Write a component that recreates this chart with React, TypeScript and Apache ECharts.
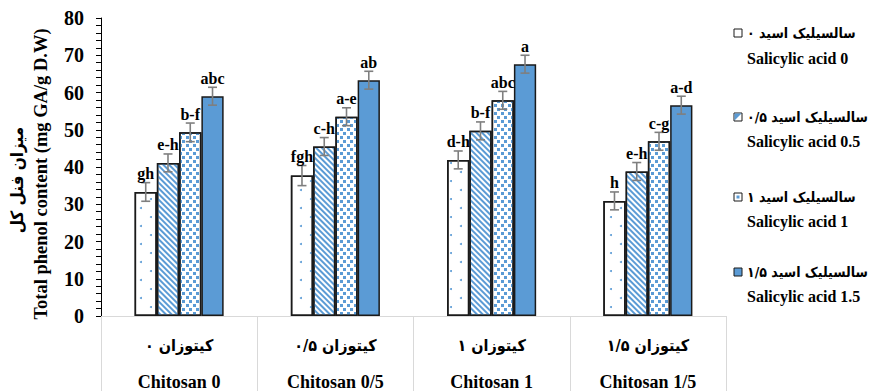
import React, { useEffect, useRef } from "react";
import * as echarts from "echarts";

const categoriesEn = ["Chitosan 0", "Chitosan 0/5", "Chitosan 1", "Chitosan 1/5"];
const categoriesFa = ["کیتوزان ۰", "کیتوزان ۰/۵", "کیتوزان ۱", "کیتوزان ۱/۵"];

const seriesNamesEn = ["Salicylic acid 0", "Salicylic acid 0.5", "Salicylic acid 1", "Salicylic acid 1.5"];
const seriesNamesFa = ["سالسیلیک اسید ۰", "سالسیلیک اسید ۰/۵", "سالسیلیک اسید ۱", "سالسیلیک اسید ۱/۵"];

const sa0 = [33.3, 37.7, 41.9, 30.9];
const sa05 = [41.1, 45.5, 49.7, 38.8];
const sa1 = [49.3, 53.5, 57.9, 46.9];
const sa15 = [59.0, 63.3, 67.6, 56.6];

const err0 = [2.5, 2.7, 2.4, 2.4];
const err05 = [2.4, 2.4, 2.4, 2.4];
const err1 = [2.5, 2.4, 2.4, 2.4];
const err15 = [2.4, 2.4, 2.4, 2.4];

const let0 = ["gh", "fgh", "d-h", "h"];
const let05 = ["e-h", "c-h", "b-f", "e-h"];
const let1 = ["b-f", "a-e", "abc", "c-g"];
const let15 = ["abc", "ab", "a", "a-d"];

const yTicks = [0, 10, 20, 30, 40, 50, 60, 70, 80];

const yTitleFa = "میزان فنل کل";
const yTitleEn = "Total phenol content (mg GA/g D.W)";

const allValues = [sa0, sa05, sa1, sa15];
const allErrors = [err0, err05, err1, err15];
const allLetters = [let0, let05, let1, let15];

const BLUE = "#5b9bd5";
const SERIF = "'Liberation Serif', 'Times New Roman', 'DejaVu Serif', serif";
const FA = "'DejaVu Sans Condensed', 'DejaVu Sans', sans-serif";

const decals: any[] = [
  {
    symbol: "circle",
    symbolSize: 1,
    color: BLUE,
    dashArrayX: [[2, 18], [0, 10, 2, 8]],
    dashArrayY: [2, 7],
    rotation: 0,
  },
  {
    symbol: "rect",
    symbolSize: 1,
    color: BLUE,
    dashArrayX: [1, 0],
    dashArrayY: [2, 2],
    rotation: Math.PI / 4,
  },
  {
    symbol: "rect",
    symbolSize: 1,
    color: BLUE,
    dashArrayX: [[3, 4], [0, 4, 3, 0]],
    dashArrayY: [3, 1],
    rotation: 0,
  },
  null,
];

function measure(text: string, font: string): number {
  const cv = document.createElement("canvas");
  const ctx = cv.getContext("2d");
  if (!ctx) return text.length * 7;
  ctx.font = font;
  return ctx.measureText(text).width;
}

export default function App() {
  const ref = useRef<HTMLDivElement>(null);

  useEffect(() => {
    if (!ref.current) return;
    const chart = echarts.init(ref.current, undefined, { renderer: "svg" });

    const barSeries = allValues.map((vals, s) => ({
      type: "bar",
      name: seriesNamesEn[s],
      data: vals,
      barGap: "0%",
      barCategoryGap: "43%",
      itemStyle: {
        color: s === 3 ? BLUE : "#ffffff",
        borderColor: "#1a1a1a",
        borderWidth: 1.5,
        decal: decals[s] || undefined,
      },
      z: 2,
    }));

    const errData: number[][] = [];
    const errLabels: string[] = [];
    allValues.forEach((vals, s) => {
      vals.forEach((v, c) => {
        errData.push([c, v, allErrors[s][c], s]);
        errLabels.push(allLetters[s][c]);
      });
    });

    const errorSeries = {
      type: "custom",
      data: errData,
      z: 5,
      encode: { x: 0, y: 1 },
      renderItem: (params: any, api: any) => {
        const c = api.value(0);
        const v = api.value(1);
        const e = api.value(2);
        const s = api.value(3);
        const catW = api.size([1, 0])[0];
        const barW = (catW * 0.57) / 4;
        const cx = api.coord([c, v])[0] + (s - 1.5) * barW;
        const yTop = api.coord([c, v + e])[1];
        const yBot = api.coord([c, v - e])[1];
        const hw = 4.5;
        const st = { stroke: "#7f7f7f", lineWidth: 1.6 };
        return {
          type: "group",
          children: [
            { type: "line", shape: { x1: cx, y1: yTop, x2: cx, y2: yBot }, style: st },
            { type: "line", shape: { x1: cx - hw, y1: yTop, x2: cx + hw, y2: yTop }, style: st },
            { type: "line", shape: { x1: cx - hw, y1: yBot, x2: cx + hw, y2: yBot }, style: st },
            {
              type: "text",
              x: cx,
              y: yTop - 1,
              style: {
                text: errLabels[params.dataIndex],
                align: "center",
                verticalAlign: "bottom",
                textAlign: "center",
                textVerticalAlign: "bottom",
                font: `bold 16px ${SERIF}`,
                fill: "#000",
              },
            },
          ],
        };
      },
    };

    // legend graphics
    const faY = [33, 117, 197, 272];
    const enY = [58, 141, 221, 296];
    const faFont = `bold 14px ${FA}`;
    const legendGraphics: any[] = [];
    seriesNamesFa.forEach((nm, i) => {
      const w = measure(nm, faFont);
      const iy = faY[i] - 4;
      const ix = 734;
      legendGraphics.push({
        type: "rect",
        shape: { x: ix, y: iy, width: 8, height: 8 },
        style: { fill: i === 3 ? BLUE : "#fff", stroke: "#1a1a1a", lineWidth: 1 },
      });
      if (i === 1) {
        legendGraphics.push({
          type: "polygon",
          shape: { points: [[ix + 0.5, iy + 0.5], [ix + 7.5, iy + 0.5], [ix + 0.5, iy + 7.5]] },
          style: { fill: BLUE },
        });
      }
      if (i === 2) {
        legendGraphics.push({
          type: "rect",
          shape: { x: ix + 2.5, y: iy + 2.5, width: 3, height: 3 },
          style: { fill: BLUE },
        });
      }
      legendGraphics.push({
        type: "text",
        x: Math.min(868, 747 + w),
        y: faY[i],
        style: {
          text: nm,
          align: "right",
          verticalAlign: "middle",
          font: faFont,
          fill: "#000",
        },
      });
      legendGraphics.push({
        type: "text",
        x: 747,
        y: enY[i],
        style: {
          text: seriesNamesEn[i],
          align: "left",
          verticalAlign: "middle",
          font: `bold 16px ${SERIF}`,
          fill: "#000",
        },
      });
    });

    const option: any = {
      animation: false,
      backgroundColor: "#ffffff",
      grid: { left: 101, right: 143, top: 18, bottom: 73, containLabel: false },
      xAxis: {
        type: "category",
        data: categoriesEn,
        axisLine: { show: true, lineStyle: { color: "#d9d9d9", width: 1 } },
        axisTick: { show: true, length: 80, interval: 0, lineStyle: { color: "#d9d9d9", width: 1 } },
        axisLabel: {
          interval: 0,
          margin: 11,
          formatter: (v: string, i: number) => `{fa|${categoriesFa[i]}}\n{en|${v}}`,
          rich: {
            fa: { fontSize: 16, fontWeight: "bold", lineHeight: 36, fontFamily: FA, color: "#000" },
            en: { fontSize: 18, fontWeight: "bold", lineHeight: 38, fontFamily: SERIF, color: "#000" },
          },
        },
      },
      yAxis: {
        type: "value",
        min: yTicks[0],
        max: yTicks[yTicks.length - 1],
        interval: 10,
        axisLine: { show: true, lineStyle: { color: "#000", width: 1 } },
        axisTick: { show: true, length: 5, lineStyle: { color: "#000" } },
        minorTick: { show: true, splitNumber: 5, length: 5, lineStyle: { color: "#000" } },
        splitLine: { show: false },
        axisLabel: {
          margin: 17,
          fontSize: 20,
          fontWeight: "bold",
          fontFamily: SERIF,
          color: "#000",
        },
      },
      series: [...barSeries, errorSeries],
      graphic: [
        {
          type: "text",
          x: 17,
          y: 180,
          rotation: Math.PI / 2,
          style: {
            text: yTitleFa,
            align: "center",
            verticalAlign: "middle",
            font: `bold 17px ${FA}`,
            fill: "#000",
          },
        },
        {
          type: "text",
          x: 41,
          y: 174,
          rotation: Math.PI / 2,
          style: {
            text: yTitleEn,
            align: "center",
            verticalAlign: "middle",
            font: `bold 18.5px ${SERIF}`,
            fill: "#000",
          },
        },
        ...legendGraphics,
      ],
    };

    chart.setOption(option);
    return () => chart.dispose();
  }, []);

  return (
    <div
      ref={ref}
      style={{ position: "fixed", left: 0, top: 0, width: 869, height: 391, background: "#fff" }}
    />
  );
}
